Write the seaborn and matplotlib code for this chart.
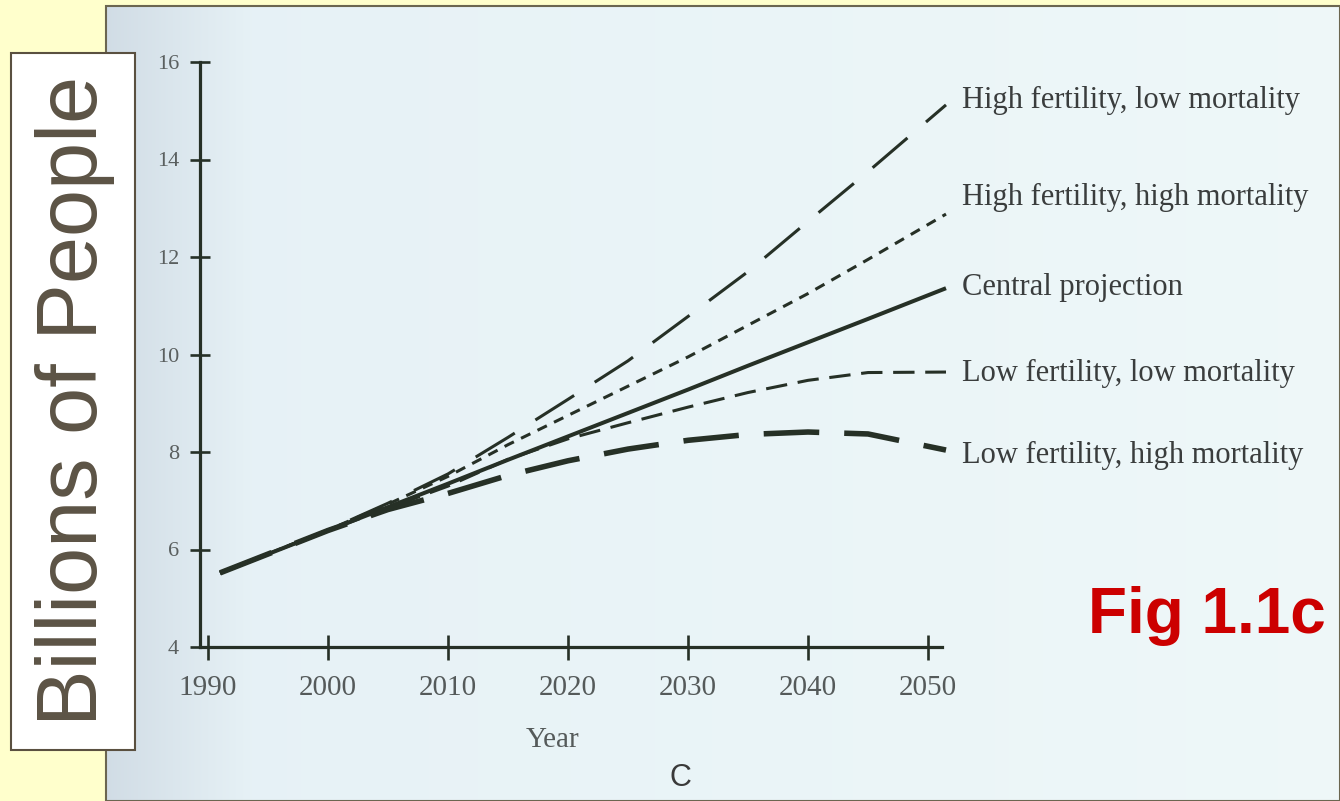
import numpy as np
import pandas as pd
import matplotlib
matplotlib.use("Agg")
import matplotlib.pyplot as plt
import seaborn as sns
from matplotlib.patches import Rectangle

# ---------------- data ----------------
years = [1991, 2000, 2005, 2010, 2015, 2020, 2025, 2030, 2035, 2040, 2045, 2051.5]
high_fert_low_mort = [5.52, 6.40, 6.95, 7.55, 8.30, 9.08, 9.87, 10.78, 11.70, 12.73, 13.75, 15.12]
high_fert_high_mort = [5.52, 6.40, 6.93, 7.50, 8.15, 8.75, 9.35, 9.95, 10.60, 11.25, 11.95, 12.88]
central_projection = [5.52, 6.39, 6.87, 7.35, 7.84, 8.32, 8.80, 9.28, 9.77, 10.25, 10.73, 11.36]
low_fert_low_mort = [5.52, 6.39, 6.85, 7.30, 7.85, 8.27, 8.60, 8.92, 9.22, 9.47, 9.63, 9.64]
low_fert_high_mort = [5.52, 6.39, 6.82, 7.15, 7.52, 7.82, 8.06, 8.24, 8.36, 8.41, 8.37, 8.04]

series_names = ["High fertility, low mortality", "High fertility, high mortality",
                "Central projection", "Low fertility, low mortality",
                "Low fertility, high mortality"]
series_values = [high_fert_low_mort, high_fert_high_mort, central_projection,
                 low_fert_low_mort, low_fert_high_mort]
x_ticks = [1990, 2000, 2010, 2020, 2030, 2040, 2050]
y_ticks = [4, 6, 8, 10, 12, 14, 16]

df = pd.DataFrame({
    "Year": np.tile(years, len(series_names)),
    "Billions": np.concatenate(series_values),
    "Scenario": np.repeat(series_names, len(years)),
})

# ---------------- styling ----------------
sns.set_style("ticks")
plt.rcParams["font.family"] = ["Liberation Serif", "DejaVu Serif"]

W, H = 1340, 801
fig = plt.figure(figsize=(W / 100, H / 100), dpi=100)
fig.patch.set_facecolor("#FFFFCC")

def fx(px):
    return px / W

def fy(py):
    return 1 - py / H

# scanned page panel with soft gradient
bg = fig.add_axes([fx(106), 0, fx(W - 106), 1 - 6 / H])
grad = np.linspace(0, 1, 400)
c_left = np.array([0.82, 0.865, 0.90])
c_mid = np.array([0.905, 0.948, 0.966])
c_right = np.array([0.935, 0.972, 0.975])
cols = np.where(grad[:, None] < 0.12,
                c_left + (c_mid - c_left) * (grad[:, None] / 0.12),
                c_mid + (c_right - c_mid) * ((grad[:, None] - 0.12) / 0.88))
img = np.tile(cols[None, :, :], (50, 1, 1))
bg.imshow(img, aspect="auto", extent=[0, 1, 0, 1], interpolation="bilinear")
bg.set_xlim(0, 1)
bg.set_ylim(0, 1)
bg.axis("off")
bg.add_patch(Rectangle((0, 0), 1, 1, transform=bg.transAxes, fill=False,
                       edgecolor="#6b6650", lw=1.5, clip_on=False))

# main chart axes
ax = fig.add_axes([fx(200), fy(647), fx(942 - 200), (647 - 62) / H])
ax.set_facecolor("none")

line_color = "#263026"
styles = {
    "High fertility, low mortality": dict(lw=2.2, linestyle=(0, (15, 8))),
    "High fertility, high mortality": dict(lw=2.2, linestyle=(0, (3.4, 2.6))),
    "Central projection": dict(lw=2.9, linestyle="-"),
    "Low fertility, low mortality": dict(lw=2.2, linestyle=(0, (7, 3.5))),
    "Low fertility, high mortality": dict(lw=4.0, linestyle=(0, (10, 4.5))),
}
for name in series_names:
    sub = df[df["Scenario"] == name]
    sns.lineplot(data=sub, x="Year", y="Billions", ax=ax, color=line_color,
                 clip_on=False, solid_capstyle="butt", dash_capstyle="butt",
                 **styles[name])

x0 = 1990 - 8 / 12
x1 = 2050 + 14 / 12
ax.set_xlim(x0, x1)
ax.set_ylim(4, 16)
ax.set_xticks(x_ticks)
ax.set_yticks(y_ticks)
ax.set_xticklabels([str(t) for t in x_ticks])
ax.set_yticklabels([str(t) for t in y_ticks])
ax.set_xlabel("")
ax.set_ylabel("")

for s in ["top", "right"]:
    ax.spines[s].set_visible(False)
for s in ["left", "bottom"]:
    ax.spines[s].set_linewidth(2.3)
    ax.spines[s].set_color(line_color)

ax.tick_params(axis="y", direction="inout", length=14, width=1.9, color=line_color,
               labelsize=16, labelcolor="#5a5f5f", pad=8)
ax.tick_params(axis="x", direction="inout", length=18, width=1.9, color=line_color,
               labelsize=21, labelcolor="#555a5a", pad=11)

# series labels
label_y = [100, 197, 287, 373, 455]
for name, py in zip(series_names, label_y):
    fig.text(fx(962), fy(py), name, ha="left", va="center", fontsize=22,
             color="#3a3d3d")

fig.text(fx(553), fy(740), "Year", ha="center", va="center", fontsize=21,
         color="#555a5a")
fig.text(fx(680), fy(778), "C", ha="center", va="center", fontsize=22,
         color="#3a3a3a", family=["Liberation Sans", "DejaVu Sans"])
fig.text(fx(1088), fy(633), "Fig 1.1c", ha="left", va="baseline", fontsize=46,
         fontweight="bold", color="#CC0000", family=["Liberation Sans", "DejaVu Sans"])

# white side label box
fig.patches.append(Rectangle((fx(11), fy(750)), fx(124), (750 - 53) / H,
                             transform=fig.transFigure, facecolor="white",
                             edgecolor="#5a5040", lw=1.5, zorder=2))
fig.text(fx(75), fy(401), "Billions of People", rotation=90, ha="center",
         va="center", fontsize=61, color="#5c5345", zorder=3,
         family=["Liberation Sans", "DejaVu Sans"])

fig.savefig("out.png", dpi=100, facecolor=fig.get_facecolor())
